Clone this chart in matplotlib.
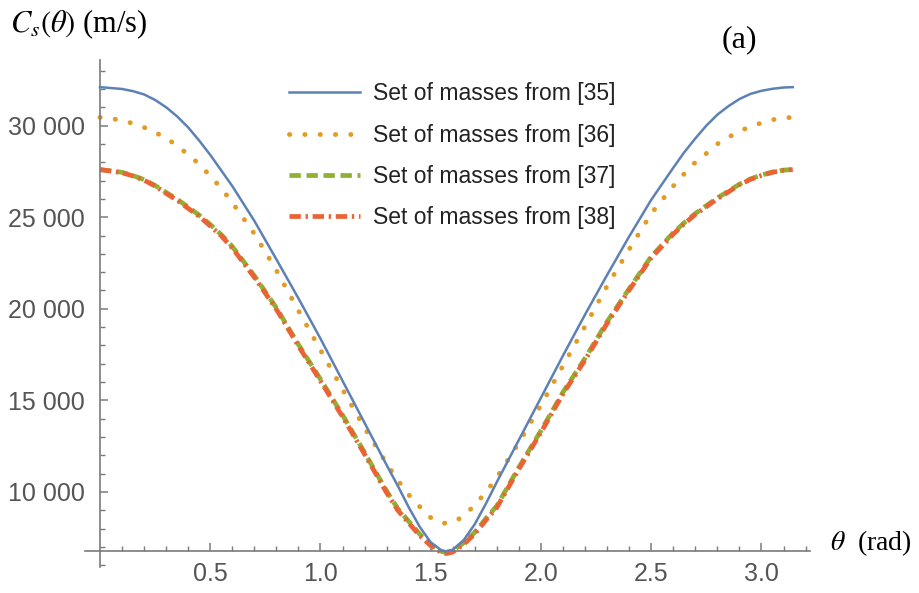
import numpy as np
import matplotlib
matplotlib.use('Agg')
import matplotlib.pyplot as plt
from matplotlib.ticker import FixedLocator, FuncFormatter

plt.rcParams['mathtext.fontset'] = 'stix'

# theta (rad) and sound speed C_s (m/s)
theta = [0.0, 0.1, 0.15, 0.2, 0.25, 0.3, 0.35, 0.4, 0.45, 0.5, 0.55, 0.6,
         0.7, 0.8, 0.9, 1.0, 1.1, 1.2, 1.3,
         1.35, 1.4, 1.45, 1.5, 1.55, 1.5708, 1.6, 1.65, 1.7, 1.75, 1.8,
         1.9, 2.0, 2.1, 2.2, 2.3, 2.4, 2.5, 2.6,
         2.65, 2.7, 2.75, 2.8, 2.85, 2.9, 2.95, 3.0, 3.05, 3.1, 3.1416]
cs_35 = [32100, 32000, 31880, 31700, 31400, 31000, 30500, 29900, 29180, 28400, 27550, 26700,
         24800, 22700, 20570, 18370, 16070, 13770, 11470,
         10350, 9170, 8100, 7250, 6800, 6760, 6850, 7380, 8250, 9360, 10550,
         12850, 15150, 17450, 19690, 21850, 23950, 25950, 27700,
         28550, 29300, 30000, 30600, 31060, 31450, 31730, 31900, 32010, 32080, 32100]
cs_36 = [30450, 30300, 30110, 29900, 29640, 29300, 28920, 28400, 27900, 27250, 26580, 25800,
         24100, 22100, 19900, 17750, 15600, 13500, 11550,
         10650, 9850, 9200, 8600, 8310, 8290, 8350, 8680, 9300, 9980, 10800,
         12700, 14750, 16900, 19050, 21250, 23250, 25200, 26700,
         27380, 28000, 28480, 29000, 29360, 29700, 29940, 30150, 30320, 30420, 30450]
cs_37 = [27600, 27450, 27270, 27050, 26730, 26350, 25980, 25550, 25110, 24600, 24050, 23400,
         21800, 20050, 18050, 16150, 14200, 12150, 10050,
         9100, 8400, 7700, 7150, 6750, 6700, 6800, 7230, 7800, 8550, 9250,
         11350, 13350, 15450, 17300, 19300, 21100, 22850, 24150,
         24700, 25200, 25630, 26050, 26420, 26800, 27090, 27300, 27470, 27570, 27600]
cs_38 = [27600, 27430, 27250, 27020, 26700, 26300, 25920, 25480, 25050, 24520, 23980, 23320,
         21720, 19970, 17970, 16060, 14110, 12060, 9960,
         9010, 8310, 7620, 7070, 6680, 6640, 6720, 7150, 7720, 8460, 9160,
         11260, 13260, 15360, 17210, 19210, 21020, 22780, 24080,
         24640, 25150, 25570, 26010, 26380, 26770, 27060, 27280, 27450, 27560, 27600]
labels = ['Set of masses from [35]', 'Set of masses from [36]',
          'Set of masses from [37]', 'Set of masses from [38]']

W, H = 920, 593
fig = plt.figure(figsize=(W / 100, H / 100), dpi=100)
ax = fig.add_axes([85 / W, (H - 567) / H, 725 / W, 507 / H])
ax.set_xlim(-0.068, 3.220)
ax.set_ylim(5906, 33581)

ax.plot(theta, cs_35, color='#5E81B5', lw=1.8, label=labels[0], zorder=3)
ax.plot(theta, cs_36, color='#E19C24', lw=3.5, linestyle=(0, (0.05, 3.1)),
        dash_capstyle='round', label=labels[1], zorder=2)
ax.plot(theta, cs_37, color='#8FB032', lw=3.4, linestyle=(0, (2.4, 1.2)),
        label=labels[2], zorder=2)
ax.plot(theta, cs_38, color='#EB6235', lw=3.4, linestyle=(0, (2.4, 1.0, 0.5, 1.0)),
        label=labels[3], zorder=2)

axis_col = '#7a7a7a'
for s in ['top', 'right']:
    ax.spines[s].set_visible(False)
ax.spines['left'].set_position(('data', 0))
ax.spines['bottom'].set_position(('data', 6760))
for s in ['left', 'bottom']:
    ax.spines[s].set_color(axis_col)
    ax.spines[s].set_linewidth(1.2)

ax.xaxis.set_major_locator(FixedLocator([0.5, 1.0, 1.5, 2.0, 2.5, 3.0]))
ax.xaxis.set_minor_locator(FixedLocator([i / 10 for i in range(1, 33)]))
ax.yaxis.set_major_locator(FixedLocator([10000, 15000, 20000, 25000, 30000]))
ax.yaxis.set_minor_locator(FixedLocator(list(range(6000, 34000, 1000))))
ax.xaxis.set_major_formatter(FuncFormatter(lambda v, p: '%.1f' % v))
ax.yaxis.set_major_formatter(FuncFormatter(lambda v, p: '{:,}'.format(int(v)).replace(',', ' ')))

ax.tick_params(which='major', direction='in', length=6, width=1.1, color=axis_col,
               labelsize=18, labelcolor='#555555')
ax.tick_params(which='minor', direction='in', length=3.5, width=1.0, color=axis_col)
ax.tick_params(axis='x', which='major', pad=8)
ax.tick_params(axis='y', which='major', pad=11)
for t in ax.get_xticklabels() + ax.get_yticklabels():
    t.set_fontfamily('Liberation Sans')

leg = ax.legend(loc='upper left', bbox_to_anchor=(278 / W, 1 - 71 / H),
                bbox_transform=fig.transFigure, frameon=False, borderpad=0,
                handlelength=3.1, handletextpad=0.55, labelspacing=0.8,
                prop={'family': 'Liberation Sans', 'size': 16.5})
for t in leg.get_texts():
    t.set_color('#222222')

fig.text(10 / W, 1 - 24 / H, r'$C_s(\theta)$ (m/s)', fontsize=22,
         family='Liberation Serif', va='center', ha='left')
fig.text(722 / W, 1 - 40 / H, '(a)', fontsize=23, family='Liberation Serif',
         va='center', ha='left')
fig.text(830 / W, 1 - 543 / H, r'$\theta$  (rad)', fontsize=20,
         family='Liberation Serif', va='center', ha='left')

fig.savefig('out.png', dpi=100, facecolor='white')
